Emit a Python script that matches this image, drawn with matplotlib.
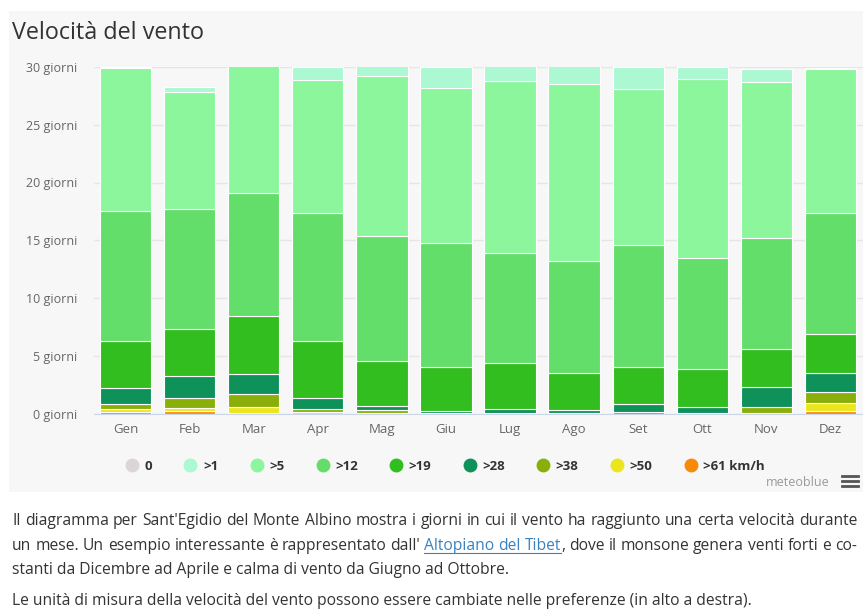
import matplotlib
matplotlib.use("Agg")
import matplotlib.pyplot as plt
from matplotlib.lines import Line2D
from matplotlib.patches import Rectangle
import numpy as np

plt.rcParams['font.family'] = ['Open Sans', 'DejaVu Sans']

months = ["Gen", "Feb", "Mar", "Apr", "Mag", "Giu", "Lug", "Ago", "Set", "Ott", "Nov", "Dez"]

# days per month in each wind class (stacked bottom -> top)
gt61 = [0.15, 0.2, 0.04, 0, 0, 0, 0, 0, 0, 0, 0, 0.25]
gt50 = [0.2, 0.25, 0.5, 0.1, 0.05, 0, 0, 0, 0, 0, 0.03, 0.69]
gt38 = [0.47, 0.92, 1.12, 0.25, 0.28, 0.02, 0.02, 0.02, 0.1, 0.04, 0.56, 0.9]
gt28 = [1.38, 1.88, 1.76, 1.0, 0.32, 0.23, 0.4, 0.28, 0.72, 0.55, 1.73, 1.7]
gt19 = [4.1, 4.1, 4.98, 4.95, 3.93, 3.8, 3.98, 3.2, 3.23, 3.26, 3.25, 3.32]
gt12 = [11.2, 10.35, 10.7, 11.1, 10.82, 10.75, 9.5, 9.7, 10.55, 9.65, 9.63, 10.49]
gt5 = [12.4, 10.1, 10.95, 11.5, 13.85, 13.4, 14.9, 15.3, 13.5, 15.5, 13.5, 12.45]
gt1 = [0.1, 0.47, 0, 1.1, 0.8, 1.8, 1.25, 1.55, 1.9, 1.0, 1.15, 0.1]
calm = [0] * 12

series = [
    ("0", calm, "#dbd5d5"),
    (">1", gt1, "#abf8d3"),
    (">5", gt5, "#8bf69c"),
    (">12", gt12, "#64de6b"),
    (">19", gt19, "#32be1f"),
    (">28", gt28, "#0f915a"),
    (">38", gt38, "#8aaf0b"),
    (">50", gt50, "#ebe61c"),
    (">61 km/h", gt61, "#f98a09"),
]

W, H = 863, 615
fig = plt.figure(figsize=(W / 100, H / 100), dpi=100)
fig.patch.set_facecolor("white")

# light grey chart container
fig.patches.append(Rectangle((9 / W, 1 - 492 / H), (W - 9) / W, (492 - 11) / H,
                             transform=fig.transFigure, facecolor="#f7f7f7",
                             edgecolor="none", zorder=-5))

ax = fig.add_axes([93.5 / W, 1 - 413.5 / H, 769 / W, 346.5 / H])
ax.set_facecolor("none")
ax.set_zorder(2)

x = np.arange(len(months))
bottom = np.zeros(len(months))
# stack from fastest class at bottom to calm at top
for name, vals, col in reversed(series):
    vals = np.array(vals, dtype=float)
    lw = [0.8 if v > 0 else 0 for v in vals]
    ax.bar(x, vals, 0.8, bottom=bottom, color=col, edgecolor="white",
           linewidth=lw, zorder=3)
    bottom += vals

ax.set_xlim(-0.5, 11.5)
ax.set_ylim(0, 30)
ax.set_yticks(range(0, 31, 5))
ax.set_yticklabels([f"{v} giorni" for v in range(0, 31, 5)])
ax.set_xticks(x)
ax.set_xticklabels(months)
ax.tick_params(axis="y", length=0, pad=11.5, labelsize=9, labelcolor="#666666")
ax.tick_params(axis="x", length=0, pad=7, labelsize=9.5, labelcolor="#666666")
ax.grid(axis="y", color="#e6e6e6", linewidth=1, zorder=0)
for s in ["top", "right", "left"]:
    ax.spines[s].set_visible(False)
ax.spines["bottom"].set_color("#ccd6eb")
ax.spines["bottom"].set_zorder(4)

fig.text(12 / W, 1 - 33 / H, "Velocità del vento", fontsize=16.8, color="#333333",
         va="center", ha="left")

handles = [Line2D([], [], marker="o", linestyle="", markersize=9,
                  markerfacecolor=c, markeredgecolor=c) for _, _, c in series]
fig.legend(handles, [n for n, _, _ in series], ncol=9, loc="center",
           bbox_to_anchor=(0.515, 1 - 466 / H), frameon=False,
           handletextpad=0.35, columnspacing=2.3, handlelength=1.2,
           prop={"weight": "bold", "size": 9.5}, labelcolor="#333333")

fig.text(830 / W, 1 - 482 / H, "meteoblue", fontsize=9, color="#999999",
         ha="right", va="center")
for yy in (476, 481, 486):
    fig.add_artist(Line2D([842 / W, 858 / W], [1 - yy / H, 1 - yy / H],
                          transform=fig.transFigure, color="#555555", lw=2))

# description text (first two lines justified, like the web page)
DARK = "#333333"
LINK = "#3b82c0"
renderer = fig.canvas.get_renderer()

line1 = [[(w, DARK)] for w in
         "Il diagramma per Sant'Egidio del Monte Albino mostra i giorni in cui "
         "il vento ha raggiunto una certa velocità durante".split()]
line2 = [[(w, DARK)] for w in
         "un mese. Un esempio interessante è rappresentato dall'".split()]
line2 += [[("Altopiano", LINK)], [("del", LINK)], [("Tibet", LINK), (",", DARK)]]
line2 += [[(w, DARK)] for w in "dove il monsone genera venti forti e co-".split()]
line3 = "stanti da Dicembre ad Aprile e calma di vento da Giugno ad Ottobre."
line4 = ("Le unità di misura della velocità del vento possono essere cambiate "
         "nelle preferenze (in alto a destra).")


def width(s, size):
    t = fig.text(0, 0, s, fontsize=size)
    w = t.get_window_extent(renderer).width
    t.remove()
    return w


def plain(tokens):
    return " ".join("".join(s for s, _ in tok) for tok in tokens)


fs = 10 * 842 / max(width(plain(line1), 10), width(plain(line2), 10))
X0, X1 = 12, 857


def justify(tokens, ypix):
    widths = [[width(s, fs) for s, _ in tok] for tok in tokens]
    total = sum(sum(w) for w in widths)
    gap = (X1 - X0 - total) / (len(tokens) - 1)
    xp = X0
    link_x = []
    for tok, ws in zip(tokens, widths):
        for (s, c), w in zip(tok, ws):
            fig.text(xp / W, 1 - ypix / H, s, fontsize=fs, color=c,
                     va="center", ha="left")
            if c == LINK:
                link_x.append((xp, xp + w))
            xp += w
        xp += gap
    if link_x:
        yl = 1 - (ypix + fs * 0.62) / H
        fig.add_artist(Line2D([link_x[0][0] / W, link_x[-1][1] / W], [yl, yl],
                              transform=fig.transFigure, color=LINK, lw=0.8))


justify(line1, 521)
justify(line2, 546)
fig.text(X0 / W, 1 - 570 / H, line3, fontsize=fs, color=DARK, va="center", ha="left")
fig.text(X0 / W, 1 - 601 / H, line4, fontsize=fs, color=DARK, va="center", ha="left")

fig.savefig("out.png", dpi=100)
